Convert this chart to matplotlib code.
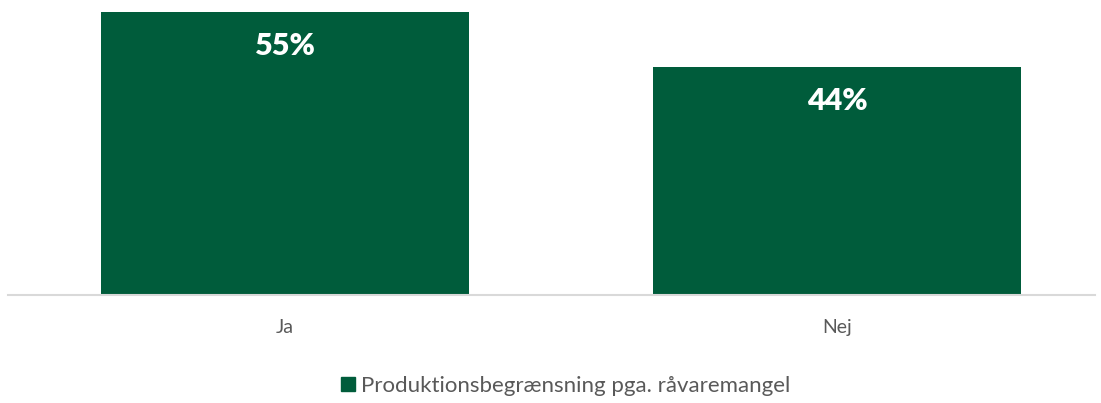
import numpy as np
import matplotlib.pyplot as plt
from matplotlib.patches import Patch

categories = ["Ja", "Nej"]
values = [0.55, 0.443]
series_name = "Produktionsbegrænsning pga. råvaremangel"

green = "#005C3B"
grey = "#595959"

plt.rcParams['font.family'] = ['Lato', 'DejaVu Sans']

fig = plt.figure(figsize=(11.01, 4.03), dpi=100)
ax = fig.add_axes([8 / 1101, 108 / 403, 1087 / 1101, 295 / 403])

x = np.arange(len(categories))
bars = ax.bar(x, values, width=0.667, color=green)

for b, v in zip(bars, values):
    ax.text(b.get_x() + b.get_width() / 2, b.get_height() - 0.066, f"{v:.0%}",
            ha="center", va="center", color="white", fontsize=22, fontweight="heavy")

ax.set_xlim(-0.502, 1.467)
ax.set_ylim(0, 0.5733)
ax.set_xticks(x)
ax.set_xticklabels(categories, fontsize=14, color=grey)
ax.tick_params(axis="x", length=0, pad=17)
ax.set_yticks([])
for s in ["top", "right", "left"]:
    ax.spines[s].set_visible(False)
ax.spines["bottom"].set_color("#D9D9D9")
ax.spines["bottom"].set_linewidth(1.5)

fig.legend(handles=[Patch(color=green, label=series_name)], loc="center",
           bbox_to_anchor=(566 / 1101, 1 - 386 / 403), frameon=False,
           fontsize=16, labelcolor=grey, handlelength=0.6, handleheight=0.6,
           handletextpad=0.3)

fig.savefig("out.png", dpi=100)
